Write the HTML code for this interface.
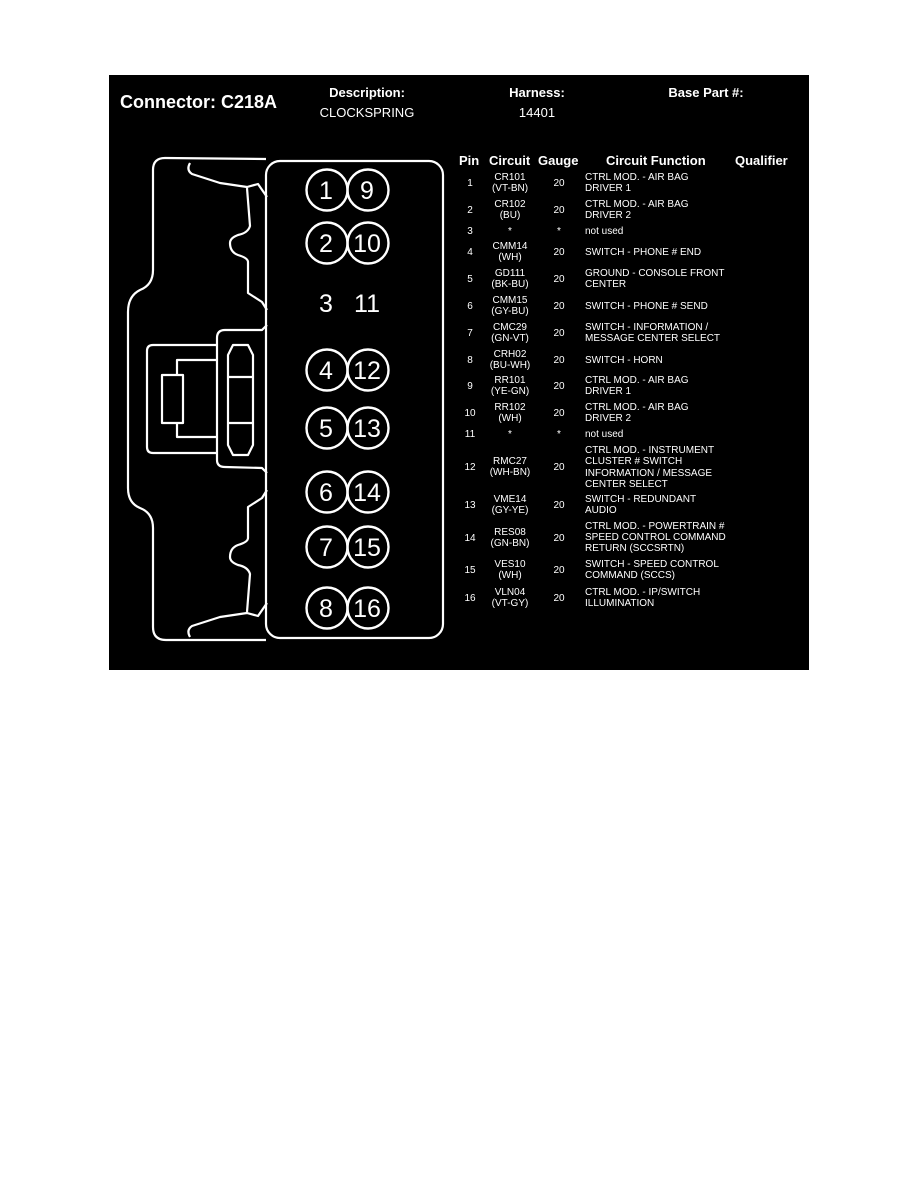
<!DOCTYPE html>
<html><head><meta charset="utf-8"><style>
html,body{margin:0;padding:0;background:#fff;width:918px;height:1188px;overflow:hidden}
svg{display:block}
text{font-family:"Liberation Sans",Arial,sans-serif;fill:#fff}
.h{font-weight:bold;font-size:13px}
.t{font-size:10px}
.n{font-size:25px}
</style></head><body>
<svg width="918" height="1188" viewBox="0 0 918 1188">
<rect x="109" y="75" width="700" height="595" fill="#000"/>
<text x="120" y="108" style="font-weight:bold;font-size:18px">Connector: C218A</text>
<text x="367" y="97" class="h" text-anchor="middle">Description:</text>
<text x="367" y="117" style="font-size:13px" text-anchor="middle">CLOCKSPRING</text>
<text x="537" y="97" class="h" text-anchor="middle">Harness:</text>
<text x="537" y="117" style="font-size:13px" text-anchor="middle">14401</text>
<text x="706" y="97" class="h" text-anchor="middle">Base Part #:</text>

<g fill="none" stroke="#fff" stroke-width="2.2" stroke-linejoin="round">
<rect x="266" y="161" width="177" height="477" rx="14"/>
<path d="M266,159 L165,158 Q153,158 153,170 L153,270 Q153,285 140,290 Q128,296 128,312 L128,488 Q128,503 140,508 Q153,513 153,528 L153,627 Q153,640 166,640 L266,640"/>
<path d="M190,163 Q186,170 192,174 L220,183 L247,187 L258,184 L267,197"/>
<path d="M247,188 L250,226 Q248,233 238,235 Q230,238 230,243 Q230,252 238,255 Q248,258 248,262 L248,293 L262,302 L267,310"/>
<path d="M190,637 Q186,630 192,626 L220,617 L247,613 L258,616 L267,603"/>
<path d="M247,612 L250,574 Q248,567 238,565 Q230,562 230,557 Q230,548 238,545 Q248,542 248,538 L248,507 L262,498 L267,490"/>
<path d="M267,325 L262,330 L225,330 Q217,330 217,338 L217,460 Q217,467 225,467 L262,468 L267,473"/>
<path d="M217,345 L153,345 Q147,345 147,351 L147,447 Q147,453 153,453 L217,453"/>
<rect x="162" y="375" width="21" height="48"/>
<path d="M177,375 L177,360 L217,360 M177,423 L177,437 L217,437"/>
<path d="M233,345 L248,345 L253,355 L253,445 L248,455 L233,455 L228,445 L228,355 Z"/>
<path d="M228,377 L253,377 M228,423 L253,423"/>
<g stroke-width="2.4">
<circle cx="327" cy="190" r="20.5"/><circle cx="368" cy="190" r="20.5"/>
<circle cx="327" cy="243" r="20.5"/><circle cx="368" cy="243" r="20.5"/>
<circle cx="327" cy="370" r="20.5"/><circle cx="368" cy="370" r="20.5"/>
<circle cx="327" cy="428" r="20.5"/><circle cx="368" cy="428" r="20.5"/>
<circle cx="327" cy="492" r="20.5"/><circle cx="368" cy="492" r="20.5"/>
<circle cx="327" cy="547" r="20.5"/><circle cx="368" cy="547" r="20.5"/>
<circle cx="327" cy="608" r="20.5"/><circle cx="368" cy="608" r="20.5"/>
</g>
</g>
<g class="n" text-anchor="middle">
<text x="326" y="199">1</text><text x="367" y="199">9</text>
<text x="326" y="252">2</text><text x="367" y="252">10</text>
<text x="326" y="312">3</text><text x="367" y="312">11</text>
<text x="326" y="379">4</text><text x="367" y="379">12</text>
<text x="326" y="437">5</text><text x="367" y="437">13</text>
<text x="326" y="501">6</text><text x="367" y="501">14</text>
<text x="326" y="556">7</text><text x="367" y="556">15</text>
<text x="326" y="617">8</text><text x="367" y="617">16</text>
</g>

<g class="h">
<text x="459" y="165">Pin</text>
<text x="489" y="165">Circuit</text>
<text x="538" y="165">Gauge</text>
<text x="606" y="165">Circuit Function</text>
<text x="735" y="165">Qualifier</text>
</g>
<g class="t">
<g text-anchor="middle">
<text x="470" y="186">1</text><text x="510" y="180">CR101</text><text x="510" y="191">(VT-BN)</text><text x="559" y="186">20</text>
<text x="470" y="213">2</text><text x="510" y="207">CR102</text><text x="510" y="218">(BU)</text><text x="559" y="213">20</text>
<text x="470" y="234">3</text><text x="510" y="234">*</text><text x="559" y="234">*</text>
<text x="470" y="255">4</text><text x="510" y="249">CMM14</text><text x="510" y="260">(WH)</text><text x="559" y="255">20</text>
<text x="470" y="282">5</text><text x="510" y="276">GD111</text><text x="510" y="287">(BK-BU)</text><text x="559" y="282">20</text>
<text x="470" y="309">6</text><text x="510" y="303">CMM15</text><text x="510" y="314">(GY-BU)</text><text x="559" y="309">20</text>
<text x="470" y="336">7</text><text x="510" y="330">CMC29</text><text x="510" y="341">(GN-VT)</text><text x="559" y="336">20</text>
<text x="470" y="363">8</text><text x="510" y="357">CRH02</text><text x="510" y="368">(BU-WH)</text><text x="559" y="363">20</text>
<text x="470" y="389">9</text><text x="510" y="383">RR101</text><text x="510" y="394">(YE-GN)</text><text x="559" y="389">20</text>
<text x="470" y="416">10</text><text x="510" y="410">RR102</text><text x="510" y="421">(WH)</text><text x="559" y="416">20</text>
<text x="470" y="437">11</text><text x="510" y="437">*</text><text x="559" y="437">*</text>
<text x="470" y="470">12</text><text x="510" y="464">RMC27</text><text x="510" y="475">(WH-BN)</text><text x="559" y="470">20</text>
<text x="470" y="508">13</text><text x="510" y="502">VME14</text><text x="510" y="513">(GY-YE)</text><text x="559" y="508">20</text>
<text x="470" y="541">14</text><text x="510" y="535">RES08</text><text x="510" y="546">(GN-BN)</text><text x="559" y="541">20</text>
<text x="470" y="573">15</text><text x="510" y="567">VES10</text><text x="510" y="578">(WH)</text><text x="559" y="573">20</text>
<text x="470" y="601">16</text><text x="510" y="595">VLN04</text><text x="510" y="606">(VT-GY)</text><text x="559" y="601">20</text>
</g>
<g>
<text x="585" y="180">CTRL MOD. - AIR BAG</text><text x="585" y="191">DRIVER 1</text>
<text x="585" y="207">CTRL MOD. - AIR BAG</text><text x="585" y="218">DRIVER 2</text>
<text x="585" y="234">not used</text>
<text x="585" y="255">SWITCH - PHONE # END</text>
<text x="585" y="276">GROUND - CONSOLE FRONT</text><text x="585" y="287">CENTER</text>
<text x="585" y="309">SWITCH - PHONE # SEND</text>
<text x="585" y="330">SWITCH - INFORMATION /</text><text x="585" y="341">MESSAGE CENTER SELECT</text>
<text x="585" y="363">SWITCH - HORN</text>
<text x="585" y="383">CTRL MOD. - AIR BAG</text><text x="585" y="394">DRIVER 1</text>
<text x="585" y="410">CTRL MOD. - AIR BAG</text><text x="585" y="421">DRIVER 2</text>
<text x="585" y="437">not used</text>
<text x="585" y="453">CTRL MOD. - INSTRUMENT</text><text x="585" y="464">CLUSTER # SWITCH</text><text x="585" y="476">INFORMATION / MESSAGE</text><text x="585" y="487">CENTER SELECT</text>
<text x="585" y="502">SWITCH - REDUNDANT</text><text x="585" y="513">AUDIO</text>
<text x="585" y="529">CTRL MOD. - POWERTRAIN #</text><text x="585" y="540">SPEED CONTROL COMMAND</text><text x="585" y="551">RETURN (SCCSRTN)</text>
<text x="585" y="567">SWITCH - SPEED CONTROL</text><text x="585" y="578">COMMAND (SCCS)</text>
<text x="585" y="595">CTRL MOD. - IP/SWITCH</text><text x="585" y="606">ILLUMINATION</text>
</g>
</g>
</svg>
</body></html>
